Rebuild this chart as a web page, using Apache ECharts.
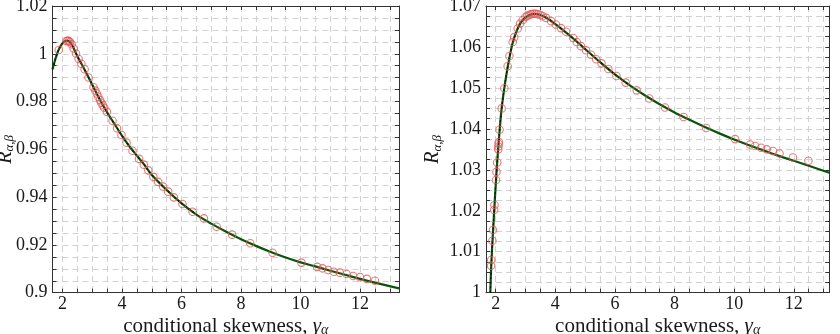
<!DOCTYPE html>
<html>
<head>
<meta charset="utf-8">
<script src="https://cdn.jsdelivr.net/npm/echarts@6/dist/echarts.min.js"></script>
<style>
html,body{margin:0;padding:0;background:#fff;}
#chart{width:840px;height:334px;}
</style>
</head>
<body>
<div id="chart"></div>
<script>
// ---------- data ----------
const xTickLabels = [2, 4, 6, 8, 10, 12];
const xGridTicks = [2, 2.5, 3, 3.5, 4, 4.5, 5, 5.5, 6, 6.5, 7, 7.5, 8, 8.5, 9, 9.5, 10, 10.5, 11, 11.5, 12, 12.5, 13];

// left panel: model curve
const leftCurveX = [1.66, 1.75, 1.85, 1.95, 2.05, 2.15, 2.25, 2.35, 2.45, 2.55, 2.7, 2.9, 3.1, 3.3, 3.5, 3.75, 4.0, 4.25, 4.5, 4.75, 5.0, 5.5, 6.0, 6.5, 7.0, 7.5, 8.0, 8.5, 9.0, 9.5, 10.0, 10.5, 11.0, 11.5, 12.0, 12.5, 13.31];
const leftCurveY = [0.9935, 0.9975, 1.0012, 1.0036, 1.0051, 1.0055, 1.0049, 1.0028, 1.0002, 0.9977, 0.9943, 0.9894, 0.9845, 0.9797, 0.9754, 0.9705, 0.9656, 0.9612, 0.9573, 0.9535, 0.9493, 0.9430, 0.9374, 0.9327, 0.9289, 0.9255, 0.9224, 0.9196, 0.9170, 0.9147, 0.9127, 0.9110, 0.9092, 0.9075, 0.9058, 0.9042, 0.9018];
// left panel: observations
const leftPointsX = [1.87, 2.13, 2.17, 2.21, 2.25, 2.30, 2.37, 2.45, 2.54, 2.63, 2.74, 2.87, 3.04, 3.10, 3.15, 3.20, 3.26, 3.30, 3.35, 3.40, 3.49, 3.68, 3.83, 3.98, 4.15, 4.35, 4.57, 4.73, 4.88, 5.05, 5.21, 5.38, 5.55, 5.74, 6.03, 6.37, 6.75, 7.18, 7.70, 8.31, 9.06, 10.03, 10.56, 10.74, 10.93, 11.12, 11.32, 11.55, 11.77, 12.00, 12.23, 12.50];
const leftPointsY = [1.0016, 1.0053, 1.0055, 1.0053, 1.0049, 1.0040, 1.0022, 1.0001, 0.9978, 0.9958, 0.9935, 0.9901, 0.9860, 0.9846, 0.9834, 0.9820, 0.9806, 0.9795, 0.9785, 0.9774, 0.9757, 0.9720, 0.9688, 0.9660, 0.9628, 0.9594, 0.9560, 0.9536, 0.9512, 0.9485, 0.9464, 0.9444, 0.9423, 0.9399, 0.9371, 0.9339, 0.9311, 0.9276, 0.9243, 0.9207, 0.9167, 0.9126, 0.9108, 0.9102, 0.9095, 0.9088, 0.9084, 0.9078, 0.9070, 0.9065, 0.9058, 0.9050];

// right panel: model curve
const rightCurveX = [1.82, 1.85, 1.9, 1.95, 2.0, 2.05, 2.1, 2.15, 2.2, 2.3, 2.4, 2.5, 2.6, 2.75, 2.9, 3.1, 3.3, 3.5, 3.75, 4.0, 4.5, 5.0, 5.5, 6.0, 6.5, 7.0, 7.5, 8.0, 8.5, 9.0, 9.5, 10.0, 10.5, 11.0, 11.5, 12.0, 12.5, 13.19];
const rightCurveY = [1.0000, 1.0065, 1.0135, 1.0200, 1.0262, 1.0318, 1.0368, 1.0412, 1.0450, 1.0505, 1.0550, 1.0588, 1.0618, 1.0647, 1.0665, 1.0677, 1.0681, 1.0678, 1.0669, 1.0656, 1.0627, 1.0595, 1.0563, 1.0533, 1.0506, 1.0482, 1.0460, 1.0440, 1.0422, 1.0405, 1.0389, 1.0374, 1.0360, 1.0347, 1.0334, 1.0322, 1.0310, 1.0293];
// right panel: observations
const rightPointsX = [1.845, 1.85, 1.89, 1.91, 1.95, 1.96, 2.01, 2.025, 2.05, 2.085, 2.09, 2.10, 2.105, 2.13, 2.20, 2.29, 2.40, 2.46, 2.57, 2.62, 2.74, 2.82, 2.91, 3.00, 3.06, 3.12, 3.18, 3.24, 3.30, 3.36, 3.42, 3.50, 3.58, 3.69, 3.86, 4.02, 4.19, 4.36, 4.60, 4.72, 4.86, 5.03, 5.20, 5.37, 5.55, 5.78, 6.05, 6.36, 6.73, 7.15, 7.68, 8.30, 9.06, 10.03, 10.53, 10.70, 10.90, 11.09, 11.30, 11.52, 11.97, 12.49];
const rightPointsY = [1.0066, 1.0080, 1.0127, 1.0153, 1.0202, 1.0214, 1.0275, 1.0295, 1.0318, 1.0350, 1.0357, 1.0363, 1.0368, 1.0398, 1.0450, 1.0499, 1.0553, 1.0578, 1.0612, 1.0624, 1.0645, 1.0657, 1.0666, 1.0673, 1.0676, 1.0678, 1.0680, 1.0681, 1.0681, 1.0681, 1.0680, 1.0678, 1.0675, 1.0671, 1.0663, 1.0655, 1.0646, 1.0637, 1.0622, 1.0612, 1.0602, 1.0592, 1.0581, 1.0570, 1.0560, 1.0546, 1.0529, 1.0513, 1.0494, 1.0474, 1.0452, 1.0429, 1.0402, 1.0375, 1.0362, 1.0358, 1.0354, 1.0350, 1.0346, 1.0340, 1.0330, 1.0322];

const dashedUpTo = 6.5;

// ---------- helpers ----------
function pairs(xs, ys) { return xs.map((x, i) => [x, ys[i]]); }
function pairsUpTo(xs, ys, lim) { return pairs(xs, ys).filter(p => p[0] <= lim); }

const FONT = "'Liberation Serif', 'Times New Roman', serif";
const TXT = '#1a1a1a';
const AXIS_COLOR = '#333';
const GRID_LINE = { show: true, lineStyle: { color: '#d2d2d2', type: [6, 4], width: 1 } };
const GREEN = '#0a550a';
const RED = '#e25a5a';

function xAxes(gridIndex, min, max) {
  return [
    {
      type: 'value', gridIndex, min, max, position: 'bottom',
      axisLine: { show: true, onZero: false, lineStyle: { color: AXIS_COLOR, width: 1 } },
      axisTick: { show: true, inside: true, length: 4, customValues: xGridTicks, lineStyle: { color: AXIS_COLOR } },
      axisLabel: { customValues: xTickLabels, fontFamily: FONT, fontSize: 18, color: TXT, margin: 3 },
      splitLine: GRID_LINE,
      name: '{t|conditional skewness, }{g|γ}{s|α}',
      nameLocation: 'middle', nameGap: 22, nameMoveOverlap: false,
      nameTextStyle: {
        rich: {
          t: { fontFamily: FONT, fontSize: 21, color: TXT },
          g: { fontFamily: FONT, fontSize: 21, fontStyle: 'italic', color: TXT },
          s: { fontFamily: FONT, fontSize: 14, fontStyle: 'italic', color: TXT, padding: [9, 0, 0, 0] }
        }
      }
    },
    {
      type: 'value', gridIndex, min, max, position: 'top',
      axisLine: { show: true, onZero: false, lineStyle: { color: AXIS_COLOR, width: 1 } },
      axisTick: { show: true, inside: true, length: 4, customValues: xGridTicks, lineStyle: { color: AXIS_COLOR } },
      axisLabel: { show: false },
      splitLine: { show: false }
    }
  ];
}

function yAxes(gridIndex, min, max, interval, gap) {
  return [
    {
      type: 'value', gridIndex, min, max, interval, position: 'left',
      axisLine: { show: true, onZero: false, lineStyle: { color: AXIS_COLOR, width: 1 } },
      axisTick: { show: true, inside: true, length: 4, lineStyle: { color: AXIS_COLOR } },
      minorTick: { show: true, splitNumber: 4, length: 4, lineStyle: { color: AXIS_COLOR } },
      axisLabel: { fontFamily: FONT, fontSize: 18, color: TXT, margin: 5 },
      splitLine: GRID_LINE,
      minorSplitLine: GRID_LINE,
      name: '{r|R}{s|α,β}',
      nameLocation: 'middle', nameGap: gap, nameRotate: 90, nameMoveOverlap: false,
      nameTextStyle: {
        rich: {
          r: { fontFamily: FONT, fontSize: 20, fontStyle: 'italic', color: TXT },
          s: { fontFamily: FONT, fontSize: 13, fontStyle: 'italic', color: TXT, padding: [9, 0, 0, 0] }
        }
      }
    },
    {
      type: 'value', gridIndex, min, max, interval, position: 'right',
      axisLine: { show: true, onZero: false, lineStyle: { color: AXIS_COLOR, width: 1 } },
      axisTick: { show: true, inside: true, length: 4, lineStyle: { color: AXIS_COLOR } },
      minorTick: { show: true, splitNumber: 4, length: 4, lineStyle: { color: AXIS_COLOR } },
      axisLabel: { show: false },
      splitLine: { show: false }
    }
  ];
}

function panelSeries(xi, yi, cx, cy, px, py) {
  return [
    { type: 'line', xAxisIndex: xi, yAxisIndex: yi, data: pairs(cx, cy), smooth: 0.35, showSymbol: false, symbol: 'none', lineStyle: { color: GREEN, width: 2.2 }, z: 3, silent: true },
    { type: 'line', xAxisIndex: xi, yAxisIndex: yi, data: pairsUpTo(cx, cy, dashedUpTo), smooth: 0.35, showSymbol: false, symbol: 'none', lineStyle: { color: '#111', width: 1.3, type: [2, 2.5] }, z: 4, silent: true },
    { type: 'scatter', xAxisIndex: xi, yAxisIndex: yi, data: pairs(px, py), symbol: 'circle', symbolSize: 7.5, itemStyle: { color: 'rgba(255,255,255,0)', borderColor: RED, borderWidth: 1.1 }, z: 5, silent: true }
  ];
}

const chart = echarts.init(document.getElementById('chart'), null, { renderer: 'canvas' });
chart.setOption({
  animation: false,
  backgroundColor: '#fff',
  grid: [
    { left: 52.5, top: 6, width: 346.5, height: 286.7, containLabel: false, outerBoundsMode: 'none' },
    { left: 486, top: 6, width: 343.3, height: 286.7, containLabel: false, outerBoundsMode: 'none' }
  ],
  xAxis: [].concat(xAxes(0, 1.66, 13.31), xAxes(1, 1.675, 13.19)),
  yAxis: [].concat(yAxes(0, 0.9, 1.02, 0.02, 36), yAxes(1, 1.0, 1.07, 0.01, 42)),
  series: [].concat(
    panelSeries(0, 0, leftCurveX, leftCurveY, leftPointsX, leftPointsY),
    panelSeries(2, 2, rightCurveX, rightCurveY, rightPointsX, rightPointsY)
  )
});
</script>
</body>
</html>
